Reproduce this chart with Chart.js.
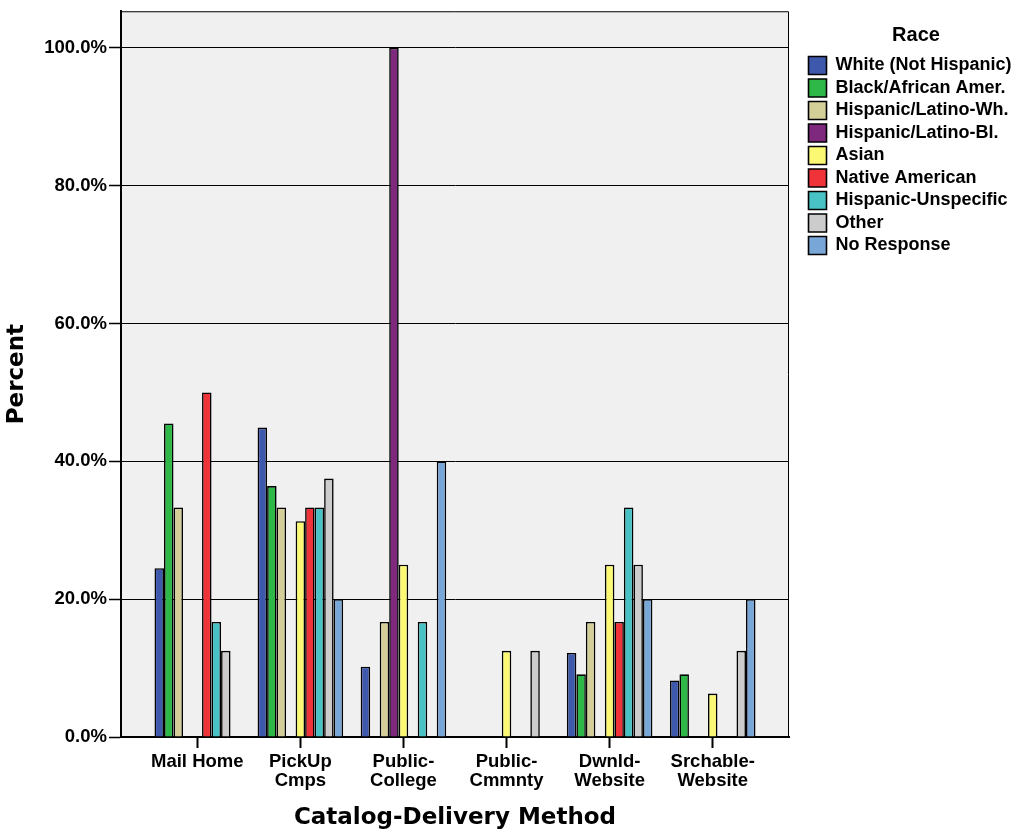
<!DOCTYPE html>
<html>
<head>
<meta charset="utf-8">
<title>Catalog-Delivery Method by Race</title>
<script src="https://cdn.jsdelivr.net/npm/chart.js@4.4.1/dist/chart.umd.min.js"></script>
<style>
  html, body { margin: 0; padding: 0; background: #fff; }
  #wrap { position: relative; width: 1021px; height: 838px; }
</style>
</head>
<body>
<div id="wrap"><canvas id="chart"></canvas></div>
<script>
// categories on the x axis
const CATEGORIES = [
    'Mail Home',
    ['PickUp', 'Cmps'],
    ['Public-', 'College'],
    ['Public-', 'Cmmnty'],
    ['Dwnld-', 'Website'],
    ['Srchable-', 'Website']
];

// percent within each race (null = no bar)
const WHITE        = [24.5, 44.9, 10.2, null, 12.2, 8.2];
const BLACK        = [45.5, 36.4, null, null, 9.1, 9.1];
const HISP_WHITE   = [33.3, 33.3, 16.7, null, 16.7, null];
const HISP_BLACK   = [null, null, 100, null, null, null];
const ASIAN        = [null, 31.3, 25.0, 12.5, 25.0, 6.3];
const NATIVE       = [50.0, 33.3, null, null, 16.7, null];
const HISP_UNSPEC  = [16.7, 33.3, 16.7, null, 33.3, null];
const OTHER        = [12.5, 37.5, null, 12.5, 25.0, 12.5];
const NO_RESPONSE  = [null, 20.0, 40.0, null, 20.0, 20.0];

const SERIES_NAMES = [
    'White (Not Hispanic)', 'Black/African Amer.', 'Hispanic/Latino-Wh.',
    'Hispanic/Latino-Bl.', 'Asian', 'Native American',
    'Hispanic-Unspecific', 'Other', 'No Response'
];
const SERIES_VALUES = [WHITE, BLACK, HISP_WHITE, HISP_BLACK, ASIAN, NATIVE, HISP_UNSPEC, OTHER, NO_RESPONSE];
const SERIES_COLORS = ['#3e58ac', '#2eb848', '#d4ce98', '#7e287e', '#fbf873', '#ef3338', '#48c2c5', '#cccccc', '#78a6d6'];

const Y_TICKS_STEP = 20;
const Y_MAX = 105.3;

const SANS = '"Liberation Sans", Arial, sans-serif';
const TITLE_SANS = '"DejaVu Sans", sans-serif';

// grey plot background plus thin top/right frame
const plotFrame = {
    id: 'plotFrame',
    beforeDraw(chart) {
        const { ctx, chartArea: a } = chart;
        ctx.save();
        ctx.fillStyle = '#f0f0f0';
        ctx.fillRect(a.left, a.top, a.right - a.left, a.bottom - a.top);
        ctx.restore();
    },
    afterDatasetsDraw(chart) {
        const { ctx, chartArea: a } = chart;
        ctx.save();
        ctx.strokeStyle = '#000';
        ctx.lineWidth = 1;
        ctx.beginPath();
        ctx.moveTo(a.left, a.top + 0.5);
        ctx.lineTo(a.right - 0.5, a.top + 0.5);
        ctx.lineTo(a.right - 0.5, a.bottom);
        ctx.stroke();
        ctx.restore();
    }
};

// keep a gap between the plot and the legend
const legendGap = {
    id: 'legendGap',
    afterInit(chart) {
        const lg = chart.legend;
        const fit = lg.fit;
        lg.fit = function () {
            fit.call(this);
            this.width = 224;
        };
    },
    afterLayout(chart) {
        chart.legend.left = chart.chartArea.right + 15;
    }
};

const datasets = SERIES_NAMES.map((name, k) => ({
    label: name,
    data: SERIES_VALUES[k].map((v, i) => ({ x: i, y: v })),
    backgroundColor: SERIES_COLORS[k],
    borderColor: '#000',
    borderWidth: 1.6,
    categoryPercentage: 0.83,
    barPercentage: 1.0
}));

new Chart(document.getElementById('chart'), {
    type: 'bar',
    data: { datasets },
    plugins: [plotFrame, legendGap],
    options: {
        responsive: true,
        maintainAspectRatio: false,
        animation: false,
        devicePixelRatio: 1,
        layout: { padding: { top: 9, right: 8, bottom: 0, left: 0 } },
        plugins: {
            tooltip: { enabled: false },
            legend: {
                position: 'right',
                align: 'start',
                title: {
                    display: true,
                    text: 'Race',
                    position: 'center',
                    color: '#000',
                    font: { family: SANS, size: 20, weight: 'bold' },
                    padding: { top: 16.5, bottom: 2.5 }
                },
                labels: {
                    color: '#000',
                    boxWidth: 18,
                    boxHeight: 18,
                    padding: 4.5,
                    font: { family: SANS, size: 18, weight: 'bold' }
                }
            }
        },
        scales: {
            x: {
                type: 'linear',
                min: -0.74,
                max: 5.74,
                offset: false,
                afterFit(scale) { scale.height = 101; },
                grid: {
                    offset: false,
                    drawOnChartArea: false,
                    tickLength: 11,
                    tickColor: '#000',
                    tickWidth: 2
                },
                border: { display: true, color: '#000', width: 2 },
                ticks: {
                    stepSize: 1,
                    includeBounds: false,
                    autoSkip: false,
                    maxRotation: 0,
                    minRotation: 0,
                    padding: 5,
                    color: '#000',
                    font: { family: SANS, size: 18.5, weight: 'bold', lineHeight: 1.0 },
                    callback: (v) => CATEGORIES[v]
                },
                title: {
                    display: true,
                    text: 'Catalog-Delivery Method',
                    color: '#000',
                    font: { family: TITLE_SANS, size: 23, weight: 'bold' },
                    padding: { top: 4, bottom: 6 }
                }
            },
            y: {
                min: 0,
                max: Y_MAX,
                afterFit(scale) { scale.width = 121; },
                grid: {
                    color: '#000',
                    lineWidth: 1,
                    tickLength: 12,
                    tickColor: '#000',
                    tickWidth: 1.5
                },
                border: { display: true, color: '#000', width: 2 },
                ticks: {
                    stepSize: Y_TICKS_STEP,
                    includeBounds: false,
                    padding: 2,
                    color: '#000',
                    font: { family: SANS, size: 18.5, weight: 'bold', lineHeight: 1 },
                    callback: (v) => v.toFixed(1) + '%'
                },
                title: {
                    display: true,
                    text: 'Percent',
                    color: '#000',
                    font: { family: TITLE_SANS, size: 23, weight: 'bold' },
                    padding: { top: 3, bottom: 4 }
                }
            }
        }
    }
});
</script>
</body>
</html>
